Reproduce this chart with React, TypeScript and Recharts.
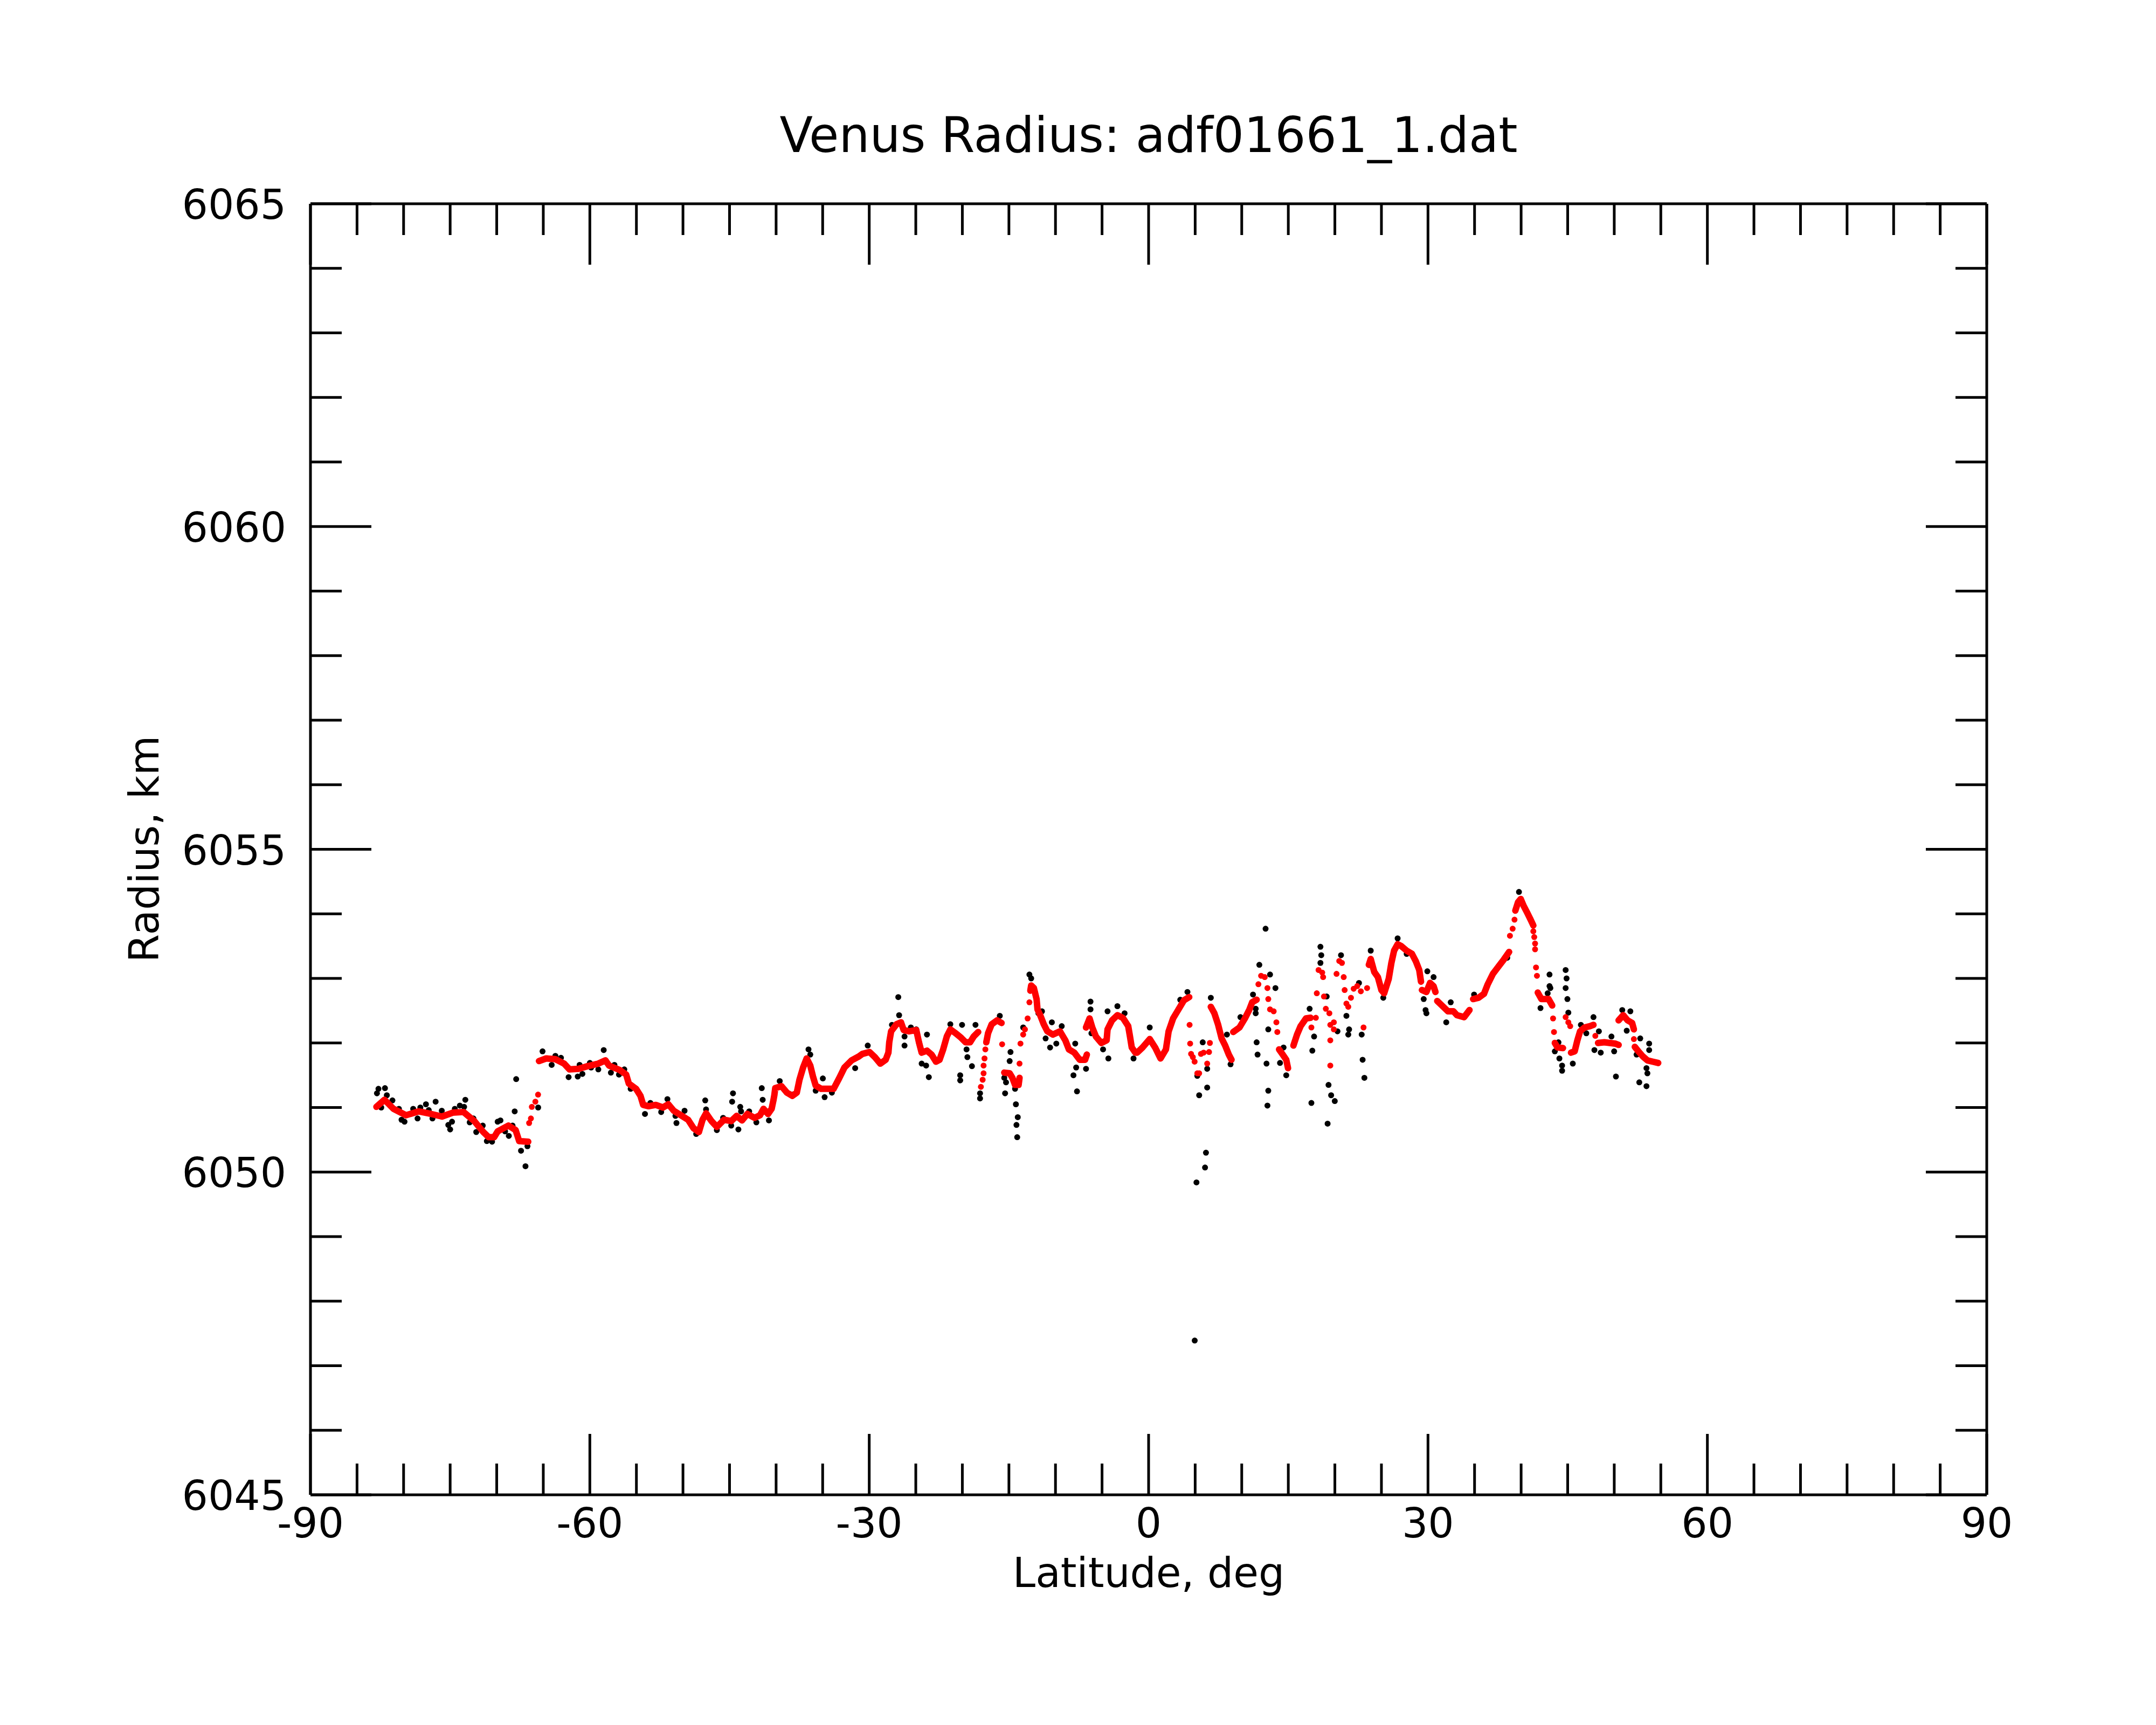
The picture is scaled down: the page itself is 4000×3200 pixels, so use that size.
import { ScatterChart, Scatter, XAxis, YAxis } from "recharts";

// raw radius samples (black), [latitude deg, radius km]
const rawPoints: [number, number][] = [
  [-82.86, 6051.22], [-82.7, 6051.29], [-82.0, 6051.3], [-81.8, 6051.19], [-81.2, 6051.11], [-82.4, 6051.0],
  [-80.5, 6050.98], [-80.22, 6050.81], [-79.9, 6050.78], [-78.97, 6050.98], [-78.5, 6050.83], [-78.2, 6051.0],
  [-77.6, 6051.05], [-76.56, 6051.09], [-77.3, 6050.96], [-76.9, 6050.83], [-75.9, 6050.95], [-75.2, 6050.73],
  [-75.0, 6050.66], [-74.8, 6050.78], [-74.5, 6050.98], [-73.96, 6051.03], [-73.37, 6051.12], [-73.5, 6051.01],
  [-72.9, 6050.77], [-72.5, 6050.83], [-72.2, 6050.62], [-71.5, 6050.72], [-71.06, 6050.48], [-70.5, 6050.47],
  [-69.9, 6050.78], [-69.6, 6050.8], [-69.1, 6050.63], [-68.7, 6050.56], [-68.3, 6050.72], [-68.07, 6050.94],
  [-67.91, 6051.44], [-67.39, 6050.33], [-66.91, 6050.09], [-66.7, 6050.4], [-65.55, 6051.0], [-65.08, 6051.87],
  [-64.1, 6051.66], [-63.7, 6051.8], [-63.1, 6051.77], [-62.28, 6051.47], [-61.3, 6051.48], [-60.8, 6051.52],
  [-61.1, 6051.66], [-60.0, 6051.69],
  [-58.51, 6051.89], [-59.86, 6051.62], [-59.09, 6051.59], [-57.74, 6051.54], [-57.36, 6051.66], [-56.87, 6051.51],
  [-56.3, 6051.59], [-55.62, 6051.29], [-54.08, 6050.9], [-53.5, 6051.07], [-52.34, 6050.93], [-51.67, 6051.13],
  [-50.81, 6050.87], [-50.7, 6050.76], [-49.83, 6050.95], [-48.58, 6050.59], [-47.61, 6051.11], [-47.52, 6050.97],
  [-46.36, 6050.65], [-45.69, 6050.84], [-44.82, 6050.72], [-44.63, 6051.22], [-44.72, 6051.09], [-44.05, 6050.66],
  [-43.85, 6051.01], [-43.76, 6050.94], [-42.89, 6050.94], [-42.12, 6050.77], [-41.54, 6051.3], [-41.44, 6051.12],
  [-40.77, 6050.8], [-39.61, 6051.41], [-38.26, 6051.2], [-36.52, 6051.9], [-36.33, 6051.82], [-35.75, 6051.26],
  [-34.98, 6051.45], [-34.79, 6051.16], [-34.01, 6051.23], [-31.51, 6051.61],
  [-30.16, 6051.96], [-26.88, 6052.71], [-26.79, 6052.43], [-27.56, 6052.28], [-26.21, 6051.96], [-26.21, 6052.1],
  [-25.53, 6052.24], [-24.95, 6052.21], [-24.37, 6051.68], [-23.89, 6051.65], [-23.8, 6052.13], [-23.6, 6051.47],
  [-21.29, 6052.29], [-20.03, 6052.28], [-19.55, 6051.9], [-19.46, 6051.78], [-18.97, 6051.64], [-18.59, 6052.28],
  [-20.23, 6051.5], [-20.23, 6051.42], [-18.1, 6051.22], [-18.1, 6051.14], [-15.98, 6052.42], [-14.83, 6051.86],
  [-14.92, 6051.72], [-15.5, 6051.46], [-15.31, 6051.39], [-15.41, 6051.22], [-14.34, 6051.29], [-14.25, 6051.05],
  [-14.05, 6050.85], [-14.19, 6050.73], [-14.11, 6050.54], [-13.47, 6052.24], [-12.8, 6053.06], [-12.61, 6053.0],
  [-11.83, 6052.46], [-11.45, 6052.49], [-11.06, 6052.07], [-10.58, 6051.93], [-10.39, 6052.32], [-9.91, 6051.99],
  [-9.33, 6052.26], [-7.88, 6051.99], [-7.78, 6051.62], [-8.07, 6051.5], [-7.69, 6051.25], [-6.72, 6051.6],
  [-6.24, 6052.64], [-6.24, 6052.52], [-6.14, 6052.15], [-4.89, 6051.9], [-4.32, 6051.76], [-4.41, 6052.49],
  [-3.35, 6052.57], [-2.58, 6052.46], [-1.62, 6051.76],
  [0.12, 6052.24], [4.17, 6052.79], [3.4, 6052.67], [5.81, 6052.01], [6.29, 6051.6], [5.23, 6051.49],
  [6.29, 6051.31], [5.43, 6051.19], [6.16, 6050.3], [6.06, 6050.07], [5.14, 6049.84], [4.95, 6047.39],
  [6.68, 6052.7], [8.41, 6052.13], [8.8, 6051.67], [9.86, 6052.4], [11.21, 6052.75], [11.5, 6052.53],
  [11.5, 6052.46], [11.6, 6052.01], [11.7, 6051.82], [11.89, 6053.21], [12.66, 6051.68], [12.85, 6052.21],
  [12.56, 6053.77], [13.04, 6053.06], [13.62, 6052.85], [12.85, 6051.26], [12.76, 6051.03], [14.49, 6051.93],
  [14.11, 6051.69], [14.78, 6051.5], [17.29, 6052.53], [17.77, 6052.1], [17.58, 6051.88], [17.48, 6051.07],
  [18.45, 6053.49], [18.54, 6053.36], [18.45, 6053.24], [19.12, 6052.72], [19.32, 6051.35], [19.6, 6051.19],
  [19.99, 6051.1], [19.22, 6050.75], [20.66, 6053.36], [20.28, 6052.18], [21.24, 6052.42], [21.53, 6052.21],
  [21.44, 6052.13], [22.59, 6052.93], [22.88, 6052.13], [22.98, 6051.74], [23.17, 6051.46], [23.85, 6053.43],
  [25.2, 6052.7], [26.74, 6053.62], [27.71, 6053.38],
  [39.77, 6054.34], [29.93, 6053.11], [30.6, 6053.02], [29.54, 6052.68], [29.74, 6052.51], [29.83, 6052.46],
  [31.96, 6052.32], [32.44, 6052.63], [34.95, 6052.75], [38.51, 6053.32], [41.12, 6053.88], [43.05, 6053.06],
  [43.05, 6052.88], [43.14, 6052.85], [42.85, 6052.77], [42.08, 6052.54], [44.78, 6053.13], [44.88, 6053.0],
  [44.78, 6052.85], [44.97, 6052.68], [45.07, 6052.47], [44.01, 6052.01], [43.62, 6051.87], [44.11, 6051.76],
  [44.4, 6051.65], [44.4, 6051.57], [45.55, 6051.68], [46.42, 6052.28], [47.0, 6052.15], [47.77, 6052.4],
  [48.35, 6052.18], [47.87, 6051.89], [48.55, 6051.85], [49.7, 6052.1], [49.99, 6051.87], [50.18, 6051.48],
  [50.86, 6052.51], [51.73, 6052.49], [51.34, 6052.19], [52.79, 6052.07], [53.75, 6051.99], [53.75, 6051.89],
  [52.4, 6051.82], [53.46, 6051.61], [53.56, 6051.53], [52.69, 6051.39], [53.46, 6051.33],
];

// smoothed radius (red), dense runs
const smoothSouthPole: [number, number][] = [
  [-82.92, 6051.01], [-82.05, 6051.12], [-81.09, 6050.98], [-79.74, 6050.88], [-78.39, 6050.94], [-77.04, 6050.9],
  [-75.88, 6050.86], [-74.72, 6050.92], [-73.56, 6050.93], [-72.41, 6050.79], [-71.44, 6050.62], [-70.86, 6050.54],
  [-70.28, 6050.54], [-69.9, 6050.63], [-68.74, 6050.72], [-67.97, 6050.65], [-67.59, 6050.48], [-66.62, 6050.47],
];
const smoothSouthMid: [number, number][] = [
  [-65.46, 6051.72], [-64.69, 6051.76], [-63.73, 6051.75], [-62.76, 6051.68], [-62.18, 6051.59], [-61.22, 6051.6],
  [-60.25, 6051.64], [-59.09, 6051.68], [-58.32, 6051.73], [-57.94, 6051.65], [-56.78, 6051.58], [-56.1, 6051.51],
  [-55.81, 6051.37], [-55.04, 6051.29], [-54.56, 6051.18], [-54.27, 6051.04], [-53.69, 6051.02], [-52.92, 6051.04],
  [-52.15, 6051.0], [-51.57, 6051.05], [-50.99, 6050.95], [-50.22, 6050.88], [-49.45, 6050.81], [-48.87, 6050.68],
  [-48.29, 6050.62], [-47.9, 6050.81], [-47.52, 6050.91], [-46.94, 6050.79], [-46.36, 6050.7], [-45.59, 6050.81],
  [-44.82, 6050.79], [-44.24, 6050.87], [-43.66, 6050.8], [-43.08, 6050.9], [-42.31, 6050.84], [-41.73, 6050.88],
  [-41.35, 6050.98], [-40.86, 6050.9], [-40.48, 6050.98], [-40.29, 6051.11], [-40.19, 6051.19], [-40.09, 6051.3],
  [-39.42, 6051.33], [-38.84, 6051.23], [-38.26, 6051.18], [-37.78, 6051.23], [-37.49, 6051.43], [-37.1, 6051.62],
  [-36.72, 6051.76], [-36.33, 6051.65], [-36.04, 6051.48], [-35.75, 6051.34], [-35.17, 6051.29], [-34.4, 6051.29],
  [-33.82, 6051.29], [-33.24, 6051.45], [-32.66, 6051.62], [-31.89, 6051.73], [-31.12, 6051.79], [-30.74, 6051.83],
  [-29.97, 6051.86], [-29.39, 6051.78], [-28.81, 6051.68], [-28.23, 6051.74], [-27.94, 6051.85], [-27.85, 6052.01],
  [-27.65, 6052.18], [-27.07, 6052.29], [-26.59, 6052.32], [-26.3, 6052.2], [-25.72, 6052.18], [-24.95, 6052.2],
  [-24.66, 6052.01], [-24.37, 6051.85], [-23.8, 6051.88], [-23.31, 6051.82], [-22.83, 6051.71], [-22.45, 6051.74],
  [-22.06, 6051.9], [-21.67, 6052.1], [-21.29, 6052.21], [-20.71, 6052.15], [-20.13, 6052.08], [-19.65, 6052.01],
  [-19.17, 6052.01], [-18.78, 6052.1], [-18.3, 6052.17],
];
const smoothMinus17: [number, number][] = [
  [-17.43, 6052.01], [-17.24, 6052.15], [-16.85, 6052.29], [-16.27, 6052.35], [-15.79, 6052.31],
];
const smoothMinus15: [number, number][] = [
  [-15.5, 6051.54], [-14.92, 6051.53], [-14.63, 6051.46], [-14.34, 6051.35], [-13.96, 6051.35], [-13.86, 6051.46],
];
const smoothMinus12: [number, number][] = [
  [-12.7, 6052.81], [-12.61, 6052.89], [-12.32, 6052.85], [-12.03, 6052.68], [-11.93, 6052.52], [-11.64, 6052.43],
  [-11.26, 6052.29], [-10.87, 6052.18], [-10.29, 6052.13], [-9.52, 6052.18], [-8.94, 6052.04], [-8.56, 6051.9],
  [-7.98, 6051.85], [-7.4, 6051.74], [-6.82, 6051.74], [-6.63, 6051.82],
];
const smoothEquator: [number, number][] = [
  [-6.72, 6052.24], [-6.34, 6052.38], [-6.05, 6052.24], [-5.66, 6052.1], [-5.08, 6052.0], [-4.51, 6052.04],
  [-4.41, 6052.21], [-3.93, 6052.35], [-3.35, 6052.43], [-2.77, 6052.39], [-2.19, 6052.26], [-2.0, 6052.1],
  [-1.81, 6051.93], [-1.42, 6051.85], [-1.23, 6051.85], [-0.65, 6051.93], [0.12, 6052.06], [0.7, 6051.93],
  [1.28, 6051.76], [1.86, 6051.9], [2.15, 6052.18], [2.63, 6052.38], [3.21, 6052.52], [3.79, 6052.66], [4.36, 6052.71],
];
const smoothPlus7: [number, number][] = [
  [6.68, 6052.56], [7.06, 6052.46], [7.45, 6052.29], [7.84, 6052.07], [8.22, 6051.96], [8.61, 6051.82], [8.9, 6051.74],
];
const smoothPlus10: [number, number][] = [
  [9.09, 6052.17], [9.76, 6052.24], [10.34, 6052.38], [10.83, 6052.52], [11.12, 6052.63], [11.6, 6052.67],
];
const smoothPlus14: [number, number][] = [
  [14.01, 6051.9], [14.4, 6051.82], [14.78, 6051.74], [14.97, 6051.61],
];
const smoothPlus16: [number, number][] = [
  [15.55, 6051.96], [15.94, 6052.13], [16.32, 6052.26], [16.9, 6052.38], [17.39, 6052.39],
];
const smoothPlus26: [number, number][] = [
  [23.65, 6053.21], [23.85, 6053.3], [24.23, 6053.1], [24.62, 6053.02], [25.0, 6052.82], [25.29, 6052.77],
  [25.78, 6052.99], [26.07, 6053.24], [26.36, 6053.43], [26.74, 6053.53], [27.13, 6053.5], [27.71, 6053.43],
  [28.28, 6053.38], [28.68, 6053.27], [29.06, 6053.13], [29.25, 6052.95],
];
const smoothPlus30: [number, number][] = [
  [29.35, 6052.82], [29.83, 6052.79], [30.22, 6052.93], [30.6, 6052.88], [30.8, 6052.79],
];
const smoothPlus33: [number, number][] = [
  [30.99, 6052.65], [31.57, 6052.57], [32.15, 6052.49], [32.73, 6052.49], [33.11, 6052.43], [33.88, 6052.4], [34.46, 6052.51],
];
const smoothPlus37: [number, number][] = [
  [34.85, 6052.68], [35.43, 6052.7], [36.01, 6052.76], [36.39, 6052.9], [36.97, 6053.07], [37.55, 6053.18],
  [38.13, 6053.29], [38.71, 6053.41],
];
const smoothPeak: [number, number][] = [
  [39.38, 6054.05], [39.67, 6054.18], [39.96, 6054.23], [40.25, 6054.13], [40.64, 6054.02], [41.02, 6053.91], [41.31, 6053.82],
];
const smoothPlus42: [number, number][] = [[41.79, 6052.78], [42.18, 6052.68], [42.95, 6052.68], [43.34, 6052.58]];
const smoothPlus44: [number, number][] = [[43.62, 6052.0], [43.91, 6051.93], [44.49, 6051.92]];
const smoothPlus46: [number, number][] = [
  [45.36, 6051.85], [45.75, 6051.87], [46.04, 6052.04], [46.33, 6052.18], [46.81, 6052.24], [47.39, 6052.26], [47.77, 6052.28],
];
const smoothPlus49: [number, number][] = [[48.26, 6052.0], [48.93, 6052.01], [49.51, 6052.0], [50.09, 6051.99], [50.47, 6051.97]];
const smoothPlus51: [number, number][] = [[50.47, 6052.35], [50.96, 6052.43], [51.44, 6052.35], [51.92, 6052.31], [52.11, 6052.21]];
const smoothPlus53: [number, number][] = [
  [52.21, 6051.94], [52.59, 6051.87], [53.08, 6051.79], [53.56, 6051.73], [54.14, 6051.71], [54.72, 6051.69],
];

// smoothed radius (red), isolated points between runs
const smoothSparse: [number, number][] = [
  [-66.52, 6050.76], [-66.33, 6050.83], [-66.23, 6051.01], [-65.85, 6051.09], [-65.56, 6051.2],
  [-18.01, 6051.32], [-17.82, 6051.43], [-17.72, 6051.53], [-17.72, 6051.65], [-17.62, 6051.76], [-17.53, 6051.9],
  [-15.73, 6051.98],
  [-13.86, 6051.68], [-13.76, 6051.99], [-13.47, 6052.13], [-13.28, 6052.21], [-12.99, 6052.38], [-12.8, 6052.63],
  [4.4, 6052.28], [4.46, 6051.99], [4.56, 6051.83], [4.75, 6051.78], [4.94, 6051.71], [5.23, 6051.53], [5.43, 6051.53],
  [5.62, 6051.83], [5.91, 6051.85], [6.29, 6051.68], [6.49, 6051.86], [6.58, 6052.0],
  [11.79, 6052.91], [12.08, 6053.04], [12.47, 6053.02], [12.76, 6052.85], [12.85, 6052.68], [13.04, 6052.52],
  [13.43, 6052.49], [13.72, 6052.32], [13.82, 6052.17],
  [17.48, 6052.24], [17.96, 6052.39], [18.06, 6052.77], [18.25, 6053.13], [18.64, 6053.09], [18.74, 6053.02],
  [18.83, 6052.72], [19.03, 6052.53], [19.41, 6052.46], [19.51, 6052.28], [19.51, 6052.04], [19.51, 6051.65],
  [19.89, 6052.32], [19.89, 6052.21], [20.18, 6053.07], [20.47, 6053.27], [20.76, 6053.24], [20.95, 6053.02],
  [21.05, 6052.82], [21.24, 6052.61], [21.44, 6052.56], [21.73, 6052.7], [22.02, 6052.84], [22.4, 6052.88],
  [22.79, 6052.8], [23.46, 6052.85], [23.08, 6052.24],
  [38.8, 6053.66], [39.09, 6053.77], [39.29, 6053.91],
  [41.31, 6053.73], [41.41, 6053.64], [41.5, 6053.54], [41.5, 6053.45], [41.6, 6053.17], [41.7, 6053.04],
  [43.43, 6052.38], [43.53, 6052.17],
  [44.78, 6052.4], [45.07, 6052.32], [45.27, 6052.26],
  [47.97, 6052.11], [52.11, 6052.06],
];

const smoothRuns = [
  smoothSouthPole, smoothSouthMid, smoothMinus17, smoothMinus15, smoothMinus12, smoothEquator,
  smoothPlus7, smoothPlus10, smoothPlus14, smoothPlus16, smoothPlus26, smoothPlus30, smoothPlus33,
  smoothPlus37, smoothPeak, smoothPlus42, smoothPlus44, smoothPlus46, smoothPlus49, smoothPlus51, smoothPlus53,
];

const latTicks = [
  -90, -85, -80, -75, -70, -65, -60, -55, -50, -45, -40, -35, -30, -25, -20, -15, -10, -5, 0,
  5, 10, 15, 20, 25, 30, 35, 40, 45, 50, 55, 60, 65, 70, 75, 80, 85, 90,
];
const radiusTicks = [
  6045, 6046, 6047, 6048, 6049, 6050, 6051, 6052, 6053, 6054, 6055,
  6056, 6057, 6058, 6059, 6060, 6061, 6062, 6063, 6064, 6065,
];

const FONT = "DejaVu Sans";
const MAJOR = 113;
const MINOR = 58;

const toPts = (a: [number, number][]) => a.map(([lat, r]) => ({ lat, r }));

const dot = (fill: string) => (p: any) => <circle cx={p.cx} cy={p.cy} r={5.5} fill={fill} />;

function BottomTick({ x, y, payload }: any) {
  const major = payload.value % 30 === 0;
  return (
    <g>
      <line x1={x} x2={x} y1={y} y2={y - (major ? MAJOR : MINOR)} stroke="#000" strokeWidth={5} />
      {major && (
        <text x={x} y={y + 79} textAnchor="middle" fontSize={76} fontFamily={FONT} fill="#000">
          {payload.value}
        </text>
      )}
    </g>
  );
}

function TopTick({ x, y, payload }: any) {
  const major = payload.value % 30 === 0;
  return <line x1={x} x2={x} y1={y} y2={y + (major ? MAJOR : MINOR)} stroke="#000" strokeWidth={5} />;
}

function LeftTick({ x, y, payload }: any) {
  const major = payload.value % 5 === 0;
  return (
    <g>
      <line x1={x} x2={x + (major ? MAJOR : MINOR)} y1={y} y2={y} stroke="#000" strokeWidth={5} />
      {major && (
        <text x={x - 45} y={y + 28} textAnchor="end" fontSize={76} fontFamily={FONT} fill="#000">
          {payload.value}
        </text>
      )}
    </g>
  );
}

function RightTick({ x, y, payload }: any) {
  const major = payload.value % 5 === 0;
  return <line x1={x} x2={x - (major ? MAJOR : MINOR)} y1={y} y2={y} stroke="#000" strokeWidth={5} />;
}

export default function App() {
  const frame = { stroke: "#000", strokeWidth: 5 };
  // every axis is 1px thick so the plot box lands on 576..3686 x 378..2773
  // top / right axes share the same domains, so series bound to them land on the same spots
  return (
    <div style={{ position: "absolute", left: 0, top: 0, width: 4000, height: 3200, background: "#fff" }}>
      <ScatterChart width={4000} height={3200} margin={{ top: 377, right: 313, bottom: 426, left: 575 }}>
        <XAxis
          xAxisId="b"
          type="number"
          dataKey="lat"
          domain={[-90, 90]}
          ticks={latTicks}
          interval={0}
          height={1}
          tickSize={0}
          tickMargin={0}
          tickLine={false}
          axisLine={frame}
          tick={<BottomTick />}
        />
        <XAxis
          xAxisId="t"
          orientation="top"
          type="number"
          dataKey="lat"
          domain={[-90, 90]}
          ticks={latTicks}
          interval={0}
          height={1}
          tickSize={0}
          tickMargin={0}
          tickLine={false}
          axisLine={frame}
          tick={<TopTick />}
        />
        <YAxis
          yAxisId="l"
          type="number"
          dataKey="r"
          domain={[6045, 6065]}
          ticks={radiusTicks}
          interval={0}
          width={1}
          tickSize={0}
          tickMargin={0}
          tickLine={false}
          axisLine={frame}
          tick={<LeftTick />}
        />
        <YAxis
          yAxisId="rt"
          orientation="right"
          type="number"
          dataKey="r"
          domain={[6045, 6065]}
          ticks={radiusTicks}
          interval={0}
          width={1}
          tickSize={0}
          tickMargin={0}
          tickLine={false}
          axisLine={frame}
          tick={<RightTick />}
        />
        <Scatter
          xAxisId="t"
          yAxisId="l"
          data={toPts(rawPoints)}
          shape={dot("#000")}
          isAnimationActive={false}
        />
        {smoothRuns.map((run, i) => (
          <Scatter
            key={i}
            xAxisId="b"
            yAxisId="l"
            data={toPts(run)}
            shape={dot("#ff0000")}
            line={{ stroke: "#ff0000", strokeWidth: 12, strokeLinejoin: "round", strokeLinecap: "round" }}
            isAnimationActive={false}
          />
        ))}
        <Scatter
          xAxisId="b"
          yAxisId="rt"
          data={toPts(smoothSparse)}
          shape={dot("#ff0000")}
          isAnimationActive={false}
        />
      </ScatterChart>
      <svg
        width={4000}
        height={3200}
        style={{ position: "absolute", left: 0, top: 0, pointerEvents: "none" }}
        fontFamily={FONT}
      >
        <text x={2131} y={282} textAnchor="middle" fontSize={90} fill="#000">
          Venus Radius: adf01661_1.dat
        </text>
        <text x={2131} y={2944} textAnchor="middle" fontSize={76} fill="#000">
          Latitude, deg
        </text>
        <text x={294} y={1575} textAnchor="middle" fontSize={76} fill="#000" transform="rotate(-90 294 1575)">
          Radius, km
        </text>
      </svg>
    </div>
  );
}
